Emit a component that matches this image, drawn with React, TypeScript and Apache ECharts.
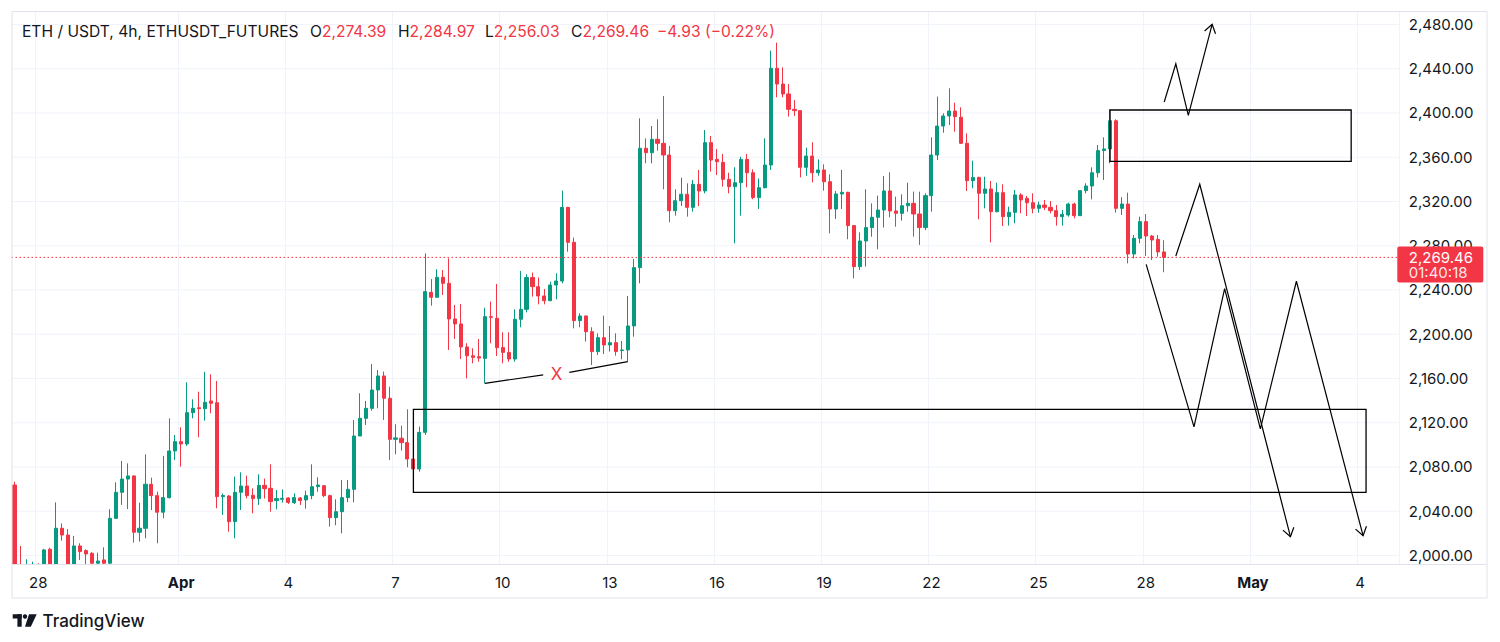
import React, { useEffect, useRef } from "react";
import * as echarts from "echarts";

const FONT = "Inter, 'Noto Sans', sans-serif";
const UP = "#089981";
const DOWN = "#f23645";
const INK = "#131722";
const GRID = "#f0f3fa";
const FRAME = "#e0e3eb";

// first 4h candle: Mar 27, 08:00 ; axis runs on to early May
const startUTC = Date.UTC(2025, 2, 27, 8);
const slotCount = 233;

const opens = [
  2063.7, 1980, 1972, 1985, 1989, 1978, 2005.6, 1988, 2024.6, 2018.5,
  1990, 2008.6, 2004.4, 2002, 1993, 1996, 1993, 2033.6, 2057.1, 2069.1,
  2071.9, 2021, 2024.6, 2064.4, 2054.1, 2039.1, 2052.3, 2094.5, 2102.9, 2100.8,
  2129.1, 2133.6, 2132.7, 2139.7, 2138.1, 2053.2, 2053.8, 2030.6, 2057.1, 2062.8,
  2054.4, 2051.4, 2063.4, 2060.7, 2049.6, 2050.8, 2052, 2047.7, 2052, 2050.2,
  2054.1, 2062.2, 2063.1, 2054.1, 2034.2, 2039.6, 2052.3, 2059.8, 2108, 2124,
  2133, 2149.6, 2162.3, 2142.1, 2105, 2106, 2102, 2087.2, 2078.2, 2111.3,
  2237.9, 2233.4, 2251.5, 2246, 2213.8, 2209.3, 2188.5, 2180.5, 2179.7, 2178.2,
  2215.9, 2214.4, 2187.9, 2183.6, 2177.6, 2213.5, 2222.5, 2251.2, 2243, 2234.6,
  2230.3, 2244.5, 2248.1, 2314.7, 2283.1, 2212.3, 2216.5, 2202.3, 2184.3, 2196.9,
  2190.3, 2192.4, 2185.2, 2185.8, 2207.5, 2260.2, 2368.1, 2364.1, 2376.2, 2372.6,
  2362, 2311.7, 2320.7, 2326.5, 2314.7, 2335.5, 2329.5, 2373.2, 2358.1, 2355.4,
  2340, 2333.4, 2337, 2358.1, 2346, 2323.5, 2332.5, 2353, 2440.4, 2426.2,
  2417.2, 2403.3, 2402.1, 2350.9, 2361.1, 2346, 2348.5, 2337.9, 2313.2, 2326.8,
  2328.3, 2298.2, 2261.1, 2284.3, 2296.4, 2305.7, 2312.3, 2329.5, 2311.4, 2309.3,
  2316.2, 2318.3, 2308.7, 2296.4, 2325.3, 2362, 2388.2, 2397.3, 2401.8, 2396.1,
  2372.6, 2338.8, 2341.8, 2327.4, 2331.3, 2310.8, 2328, 2306.3, 2310.2, 2325.9,
  2322.9, 2318.9, 2313.8, 2316.8, 2314.7, 2311.7, 2306.3, 2307.8, 2317.7, 2307.2,
  2329.8, 2334, 2346, 2366, 2367.5, 2393, 2313.8, 2317.7, 2272.5, 2286.7,
  2301.8, 2288.8, 2285.8, 2274.39,
];

const highs = [
  2066.7, 2008.6, 1996.6, 1994.4, 1993, 2006, 2007, 2048, 2029, 2023.9,
  2017.6, 2011, 2005.6, 2003, 2002.5, 2007.4, 2041.8, 2066.2, 2085.4, 2083.3,
  2072.5, 2047.7, 2091.5, 2070.4, 2057.7, 2090, 2124, 2108.9, 2115.9, 2156.6,
  2141.2, 2148.1, 2166.1, 2163.8, 2157.7, 2056, 2054.5, 2071.3, 2075.2, 2072.2,
  2060.7, 2073.4, 2069.5, 2082.4, 2059.2, 2059.8, 2052.6, 2056.2, 2052.9, 2058.6,
  2082.4, 2070.7, 2063.7, 2055, 2050.8, 2068.2, 2068.2, 2122.5, 2146.6, 2139.7,
  2173.1, 2167.7, 2166.2, 2152.6, 2118.6, 2117.3, 2132.1, 2093.3, 2116.5, 2273.1,
  2249.9, 2258.7, 2258.1, 2268.6, 2226.4, 2227.3, 2191.8, 2187.3, 2195.7, 2224,
  2229.5, 2245.4, 2201.7, 2201.7, 2222.5, 2257.2, 2254.2, 2255.7, 2251.2, 2240.9,
  2247.5, 2255.1, 2329.8, 2315.2, 2287.3, 2218.9, 2217, 2206.3, 2200.8, 2216.8,
  2207.5, 2200.8, 2193.9, 2234.6, 2268, 2395.2, 2377.1, 2388.2, 2394.3, 2415.4,
  2370.2, 2331, 2341.5, 2336.4, 2339.4, 2348.5, 2384.6, 2379.2, 2367.5, 2362.9,
  2346, 2350.9, 2360.5, 2363, 2349, 2340.9, 2377.1, 2456.4, 2463.6, 2441.3,
  2426.2, 2411.8, 2402.7, 2368.7, 2373.5, 2358.1, 2353.6, 2344.6, 2329.5, 2348.5,
  2328.8, 2298.6, 2292.1, 2331, 2318.3, 2325.3, 2343, 2346.4, 2324.4, 2326.5,
  2337, 2328.9, 2328.9, 2327.4, 2378, 2414.8, 2399.7, 2422.3, 2409.3, 2405.1,
  2381.6, 2356.9, 2342.4, 2342.4, 2338.5, 2337, 2335.5, 2315.3, 2330.4, 2327.4,
  2325, 2327.4, 2319.9, 2321.4, 2320.4, 2316.8, 2312.3, 2318.9, 2318.9, 2330.2,
  2336.4, 2350.9, 2371.1, 2378, 2403.3, 2394.3, 2323.8, 2328, 2289.7, 2306.3,
  2308.7, 2289.7, 2289.7, 2284.97,
];

const lows = [
  1975, 1962, 1960, 1970, 1968, 1975, 1982, 1984, 2013.4, 1985,
  1987, 1995.9, 1988, 1988, 1989, 1988, 1990, 2033, 2045.7, 2042,
  2011.6, 2012.5, 2015.6, 2041.1, 2011, 2033.6, 2051.5, 2086.3, 2080.3, 2099,
  2124, 2106.9, 2121.9, 2128.5, 2042.7, 2036.6, 2021.5, 2015.6, 2041.1, 2051.7,
  2038.1, 2045.7, 2051.4, 2039.6, 2041.7, 2047.8, 2046.6, 2046.6, 2045.6, 2042.3,
  2050.8, 2057.7, 2052.6, 2026.1, 2027.3, 2020, 2048.1, 2048.1, 2108, 2117.9,
  2131, 2133, 2122.5, 2086.3, 2091.5, 2094.8, 2079.7, 2057.1, 2075.8, 2109,
  2225.8, 2233.4, 2235.5, 2185.8, 2195.7, 2177.6, 2160.1, 2173.7, 2175.2, 2155.6,
  2191.8, 2180.3, 2173.7, 2175.2, 2175.2, 2206.3, 2219.8, 2234, 2227, 2227,
  2230.3, 2231.6, 2246, 2274.6, 2205.3, 2206.3, 2193.3, 2172.2, 2181.3, 2182.1,
  2184.3, 2180.6, 2177.3, 2175.2, 2197.8, 2246, 2354.5, 2354.5, 2365.9, 2331,
  2301.2, 2307.2, 2315.9, 2306.3, 2310.8, 2315.9, 2327.4, 2347, 2343.9, 2333.4,
  2327.4, 2282.2, 2307.2, 2332.8, 2322, 2313.2, 2331.9, 2348.5, 2414.2, 2414.2,
  2396.7, 2397.3, 2341.8, 2343.3, 2337.3, 2343.3, 2329.8, 2291.2, 2304.2, 2313.2,
  2285.8, 2250.5, 2258.1, 2261.1, 2288.2, 2276.8, 2296.4, 2305.7, 2297.2, 2302.7,
  2310.8, 2288.2, 2280.7, 2294.2, 2310.8, 2357.5, 2382.2, 2389.1, 2383.1, 2372,
  2329.5, 2331.9, 2303.9, 2313.8, 2283.1, 2310.2, 2297.8, 2298.2, 2300.3, 2309.3,
  2306.9, 2309.3, 2309.9, 2312.3, 2309.3, 2298.2, 2298.2, 2306.3, 2304.8, 2306.8,
  2327.4, 2321.9, 2341.8, 2339.4, 2354.5, 2309.9, 2307.8, 2264.1, 2268.6, 2282.2,
  2270.7, 2267.1, 2270.1, 2256.03,
];

const closes = [
  1980, 1972, 1985, 1989, 1978, 2005, 1988, 2024.6, 2018.5, 1990,
  2008.6, 2003.5, 2001.4, 1993, 1995, 1993, 2033.6, 2057.1, 2069.1, 2071.9,
  2021, 2024.6, 2064.4, 2054.1, 2039.1, 2052.3, 2094.5, 2102.9, 2100.8, 2129.1,
  2133.1, 2132.7, 2138.5, 2137.6, 2053.2, 2054.2, 2030.6, 2057.1, 2062.8, 2054.1,
  2051.4, 2063.4, 2060.4, 2048.7, 2051.4, 2051.7, 2048, 2052.3, 2049.6, 2054.1,
  2062.2, 2063.7, 2054.1, 2034.2, 2039.6, 2052.3, 2059.8, 2108, 2124, 2133,
  2149.6, 2162.3, 2142.1, 2105, 2106.3, 2102, 2087.2, 2078.2, 2111.3, 2238.5,
  2233.4, 2251.5, 2246, 2213.8, 2209.3, 2188.5, 2180.5, 2179.1, 2178.5, 2215.9,
  2215.3, 2187.9, 2183.6, 2177.6, 2213.5, 2222.5, 2251.2, 2243, 2234.6, 2230.3,
  2244.5, 2248.1, 2314.7, 2283.1, 2212.3, 2216.5, 2202.3, 2184.3, 2196.9, 2190.3,
  2192.4, 2184.3, 2185.8, 2207.5, 2260.2, 2368.1, 2364.1, 2376.2, 2372.6, 2362,
  2311.7, 2320.7, 2326.5, 2314.7, 2335.5, 2329.5, 2373.2, 2357.5, 2356, 2340,
  2333.4, 2337, 2358.1, 2346, 2323.5, 2332.5, 2353, 2440.4, 2426.2, 2417.2,
  2403.3, 2402.1, 2350.9, 2361.1, 2346, 2348.5, 2337.9, 2313.2, 2326.8, 2328.3,
  2298.2, 2261.1, 2284.3, 2296.4, 2305.7, 2312.3, 2329.5, 2311.4, 2309.3, 2316.2,
  2318.3, 2308.7, 2296.4, 2325.3, 2362, 2388.2, 2397.3, 2401.8, 2396.7, 2372.6,
  2338.8, 2341.8, 2327.4, 2331.3, 2310.8, 2328, 2306.3, 2310.2, 2325.9, 2321.4,
  2318.9, 2313.8, 2316.8, 2314.7, 2311.7, 2306.3, 2308.4, 2317.7, 2307.2, 2329.8,
  2334, 2346, 2366, 2367.5, 2393, 2313.8, 2317.7, 2272.5, 2286.7, 2301.8,
  2288.8, 2285.2, 2274.39, 2269.46,
];

const dayTickDates = ["03-28", "04-01", "04-04", "04-07", "04-10", "04-13", "04-16", "04-19", "04-22", "04-25", "04-28", "05-01", "05-04"];
const dayTickLabels = ["28", "Apr", "4", "7", "10", "13", "16", "19", "22", "25", "28", "May", "4"];
const priceTicks = [2000, 2040, 2080, 2120, 2160, 2200, 2240, 2280, 2320, 2360, 2400, 2440, 2480];
const yMin = 1992.3;
const yMax = 2492.2;
const countdown = "01:40:18";
const titleText = "ETH / USDT, 4h, ETHUSDT_FUTURES";

// drawings, in [4h slot index, price]
const demandZone = [[67, 2132.1], [227, 2057.1]];
const supplyZone = [[184, 2402.7], [224.5, 2356.3]];
const bullPath = [[193.1, 2409.9], [195.05, 2444.4], [197.15, 2397.8], [201.15, 2480.1]];
const bearPathA = [[190.07, 2263.1], [198.1, 2116.3], [203.25, 2241.2], [209.25, 2114.4], [215.3, 2247.9], [226.5, 2017.9]];
const bearPathB = [[195.05, 2270.7], [199.07, 2335.6], [214.3, 2017.0]];
const lowLineLeft = [[79, 2155.6], [88.8, 2163.2]];
const lowLineRight = [[93.2, 2165.6], [103, 2175.2]];
const xMark = [91.06, 2163.8];

const pad = (n: number) => String(n).padStart(2, "0");
const categories = Array.from({ length: slotCount }, (_, i) => {
  const d = new Date(startUTC + i * 4 * 3600 * 1000);
  return `${pad(d.getUTCMonth() + 1)}-${pad(d.getUTCDate())} ${pad(d.getUTCHours())}:00`;
});
const tickIndex = dayTickDates.map((md) => categories.indexOf(md + " 00:00"));
const tickSet = new Set(tickIndex);

const fmt = (v: number) => v.toLocaleString("en-US", { minimumFractionDigits: 2, maximumFractionDigits: 2 });

function buildOption() {
  return {
    animation: false,
    backgroundColor: "#ffffff",
    grid: { left: 11.5, right: 101.2, top: 11, bottom: 78, containLabel: false },
    xAxis: {
      type: "category",
      data: categories,
      boundaryGap: true,
      axisLine: { show: false },
      axisTick: { show: false },
      axisLabel: { show: false },
      splitLine: { show: true, interval: (idx: number) => tickSet.has(idx), lineStyle: { color: GRID, width: 1 } },
    },
    yAxis: { type: "value", min: yMin, max: yMax, show: false, splitLine: { show: false } },
    series: [
      {
        type: "candlestick",
        data: opens.map((o, i) => [o, closes[i], lows[i], highs[i]]),
        barWidth: 3.6,
        clip: true,
        z: 3,
        itemStyle: { color: UP, color0: DOWN, borderColor: UP, borderColor0: DOWN, borderWidth: 1 },
      },
    ],
  };
}

function txt(text: string, x: number, y: number, o: any = {}) {
  return {
    type: "text",
    z: o.z ?? 30,
    silent: true,
    style: {
      text,
      x,
      y,
      fill: o.fill ?? INK,
      fontSize: o.fontSize ?? 15,
      fontFamily: FONT,
      fontWeight: o.fontWeight ?? "normal",
      align: o.align ?? "left",
      textAlign: o.align ?? "left",
      verticalAlign: "middle",
      textVerticalAlign: "middle",
      opacity: o.opacity ?? 1,
      rich: o.rich,
    },
  };
}

function buildGraphics(chart: any) {
  const a = chart.convertToPixel({ gridIndex: 0 }, [0, yMin]) as number[];
  const b = chart.convertToPixel({ gridIndex: 0 }, [200, yMin]) as number[];
  const slotW = (b[0] - a[0]) / 200;
  const X = (i: number) => a[0] + i * slotW;
  const Y = (p: number) => chart.convertToPixel({ yAxisIndex: 0 }, p) as number;
  const plotL = X(-0.5);
  const plotR = X(slotCount - 0.5);
  const plotT = Y(yMax);
  const plotB = Y(yMin);
  const axisR = 1487;
  const timeB = 598;
  const labelX = plotR + 10;
  const els: any[] = [];

  // mask below the pane so candles are cut at its lower edge
  els.push({ type: "rect", z: 10, silent: true, shape: { x: 0, y: plotB + 0.5, width: 1500, height: 642 - plotB }, style: { fill: "#ffffff" } });
  els.push({ type: "rect", z: 11, silent: true, shape: { x: plotL + 0.5, y: plotT + 0.5, width: axisR - plotL - 0.5, height: timeB - plotT - 0.5 }, style: { fill: "none", stroke: FRAME, lineWidth: 1 } });
  els.push({ type: "line", z: 11, silent: true, shape: { x1: plotL, y1: plotB + 0.5, x2: axisR, y2: plotB + 0.5 }, style: { stroke: FRAME, lineWidth: 1 } });

  // time scale labels
  tickIndex.forEach((idx, k) => {
    const t = dayTickLabels[k];
    els.push(txt(t, X(idx), plotB + 18, { align: "center", fontWeight: isNaN(Number(t)) ? "bold" : "normal", z: 12 }));
  });

  // price scale
  priceTicks.forEach((v) => {
    const y = Y(v);
    els.push({ type: "line", z: 0, silent: true, shape: { x1: plotL, y1: y, x2: plotR, y2: y }, style: { stroke: GRID, lineWidth: 1 } });
    els.push(txt(fmt(v), labelX, y, { z: 5 }));
  });

  // drawings
  const stroke = { stroke: "#000000", lineWidth: 1.3, fill: "none" };
  const zone = (z: number[][]) => {
    const x0 = X(z[0][0]), x1 = X(z[1][0]), y0 = Y(z[0][1]), y1 = Y(z[1][1]);
    return { type: "rect", z: 15, silent: true, shape: { x: Math.min(x0, x1), y: Math.min(y0, y1), width: Math.abs(x1 - x0), height: Math.abs(y1 - y0) }, style: { ...stroke } };
  };
  els.push(zone(demandZone));
  els.push(zone(supplyZone));
  const poly = (pts: number[][], arrow: boolean) => {
    const pix = pts.map((p) => [X(p[0]), Y(p[1])]);
    els.push({ type: "polyline", z: 15, silent: true, shape: { points: pix }, style: { ...stroke, lineWidth: 1.2 } });
    if (arrow) {
      const t = pix[pix.length - 1];
      const f = pix[pix.length - 2];
      const ang = Math.atan2(t[1] - f[1], t[0] - f[0]) + Math.PI;
      const L = 10;
      const arm = (d: number) => [t[0] + L * Math.cos(ang + d), t[1] + L * Math.sin(ang + d)];
      els.push({ type: "polyline", z: 15, silent: true, shape: { points: [arm(0.6), t, arm(-0.6)] }, style: { ...stroke, lineWidth: 1.2 } });
    }
  };
  poly(bullPath, true);
  poly(bearPathA, true);
  poly(bearPathB, true);
  poly(lowLineLeft, false);
  poly(lowLineRight, false);
  els.push(txt("X", X(xMark[0]), Y(xMark[1]), { fill: DOWN, fontSize: 17, align: "center", z: 16 }));

  // last price line and tag
  const last = closes.length - 1;
  const yp = Y(closes[last]);
  els.push({ type: "line", z: 4, silent: true, shape: { x1: plotL, y1: yp, x2: plotR, y2: yp }, style: { stroke: DOWN, lineWidth: 1, lineDash: [1.5, 2.5] } });
  els.push({ type: "rect", z: 20, silent: true, shape: { x: plotR - 1.5, y: yp - 11, width: 86, height: 36, r: 2 }, style: { fill: DOWN } });
  els.push(txt(fmt(closes[last]), labelX, yp, { fill: "#ffffff", z: 21 }));
  els.push(txt(countdown, labelX, yp + 15, { fill: "#ffffff", opacity: 0.9, z: 21 }));

  // legend line
  const chg = closes[last] - closes[last - 1];
  const pct = (chg / closes[last - 1]) * 100;
  const sg = chg < 0 ? "\u2212" : "+";
  const hy = 31;
  const hs = 15.6;
  const rich = {
    k: { fill: INK, color: INK, fontSize: hs, fontFamily: FONT },
    v: { fill: DOWN, color: DOWN, fontSize: hs, fontFamily: FONT },
  };
  els.push(txt(titleText, 22, hy, { fontSize: hs }));
  els.push(txt(`{k|O}{v|${fmt(opens[last])}}`, 310, hy, { fontSize: hs, rich }));
  els.push(txt(`{k|H}{v|${fmt(highs[last])}}`, 398, hy, { fontSize: hs, rich }));
  els.push(txt(`{k|L}{v|${fmt(lows[last])}}`, 485, hy, { fontSize: hs, rich }));
  els.push(txt(`{k|C}{v|${fmt(closes[last])}}`, 571, hy, { fontSize: hs, rich }));
  els.push(txt(`${sg}${Math.abs(chg).toFixed(2)} (${sg}${Math.abs(pct).toFixed(2)}%)`, 657, hy, { fill: DOWN, fontSize: hs }));

  // TradingView mark
  els.push({ type: "rect", z: 30, silent: true, shape: { x: 12.7, y: 614.3, width: 9, height: 4.2 }, style: { fill: INK } });
  els.push({ type: "rect", z: 30, silent: true, shape: { x: 17.4, y: 614.3, width: 4.3, height: 12.4 }, style: { fill: INK } });
  els.push({ type: "circle", z: 30, silent: true, shape: { cx: 25, cy: 616.5, r: 2.2 }, style: { fill: INK } });
  els.push({ type: "polygon", z: 30, silent: true, shape: { points: [[29, 614.3], [36.7, 614.3], [30.8, 626.7], [25, 626.7]] }, style: { fill: INK } });
  els.push(txt("TradingView", 42.5, 620.5, { fontSize: 17, fontWeight: 500 }));

  return els;
}

export default function App() {
  const ref = useRef<HTMLDivElement>(null);
  useEffect(() => {
    const el = ref.current;
    if (!el) return;
    const chart = echarts.init(el, null, { renderer: "svg" });
    chart.setOption(buildOption() as any);
    chart.setOption({ graphic: buildGraphics(chart) } as any);
    return () => chart.dispose();
  }, []);
  return <div ref={ref} style={{ position: "fixed", left: 0, top: 0, width: 1500, height: 642, background: "#ffffff" }} />;
}
